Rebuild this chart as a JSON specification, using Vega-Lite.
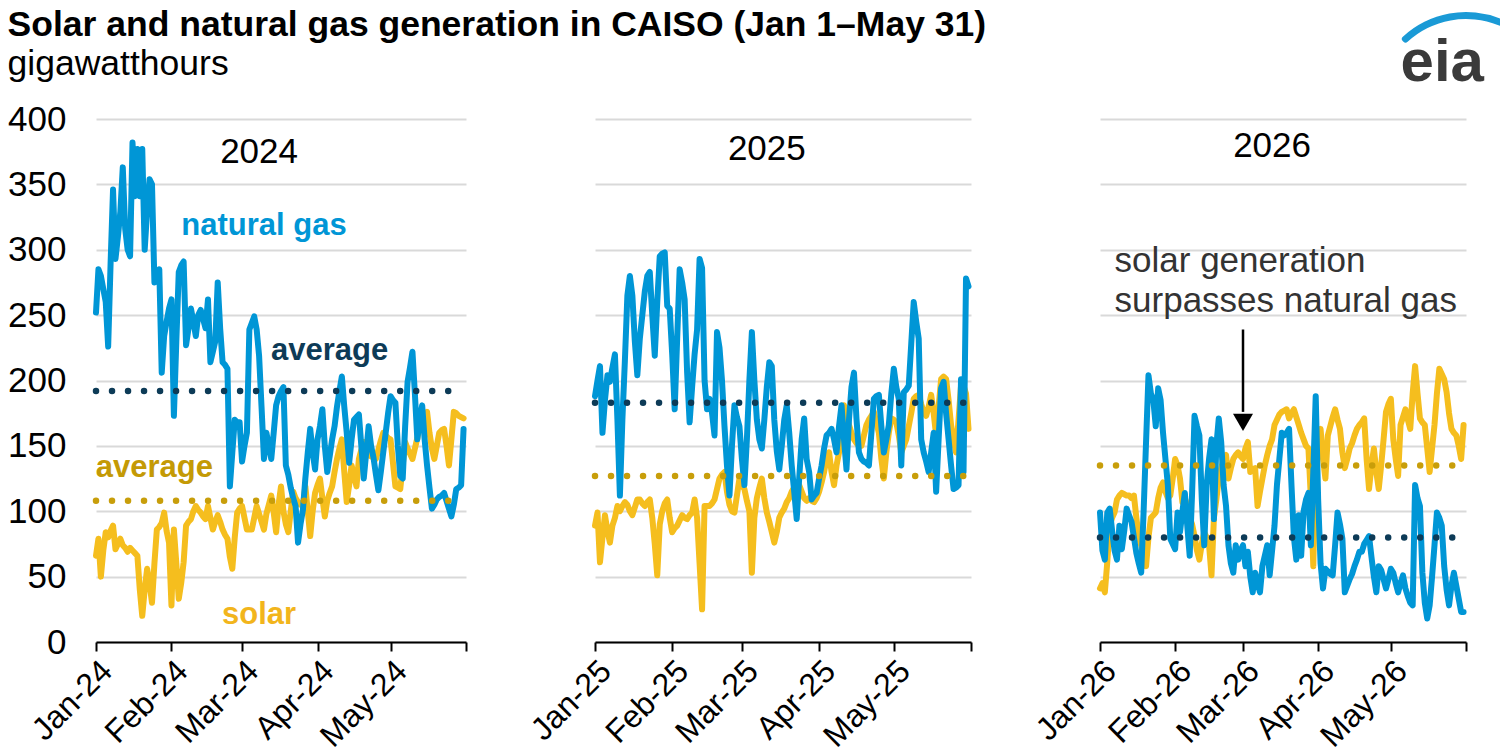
{
"$schema": "https://vega.github.io/schema/vega-lite/v6.json",
"background": "white",
"padding": {"left": 7, "top": 8, "right": 0, "bottom": 0},
"title": {"text": "Solar and natural gas generation in CAISO (Jan 1–May 31)", "subtitle": "gigawatthours", "anchor": "start", "frame": "bounds", "fontSize": 35.5, "fontWeight": "bold", "color": "#000000", "subtitleFontSize": 35.5, "subtitleColor": "#000000", "subtitlePadding": 3, "offset": -70, "font": "Liberation Sans", "subtitleFont": "Liberation Sans"},
"config": {
  "font": "Liberation Sans",
  "view": {"stroke": null},
  "axisX": {"labelAngle": -45, "labelFontSize": 32, "labelColor": "#000000", "domainColor": "#000000", "domainWidth": 2, "tickColor": "#000000", "tickWidth": 2, "tickSize": 9, "grid": false, "title": null, "labelPadding": 4, "labelOverlap": false, "labelFlush": false, "format": "%b-%y", "tickCount": {"interval": "month", "step": 1}, "labelExpr": "utcmonth(datum.value) == 5 ? '' : datum.label"},
  "axisY": {"domain": false, "ticks": false, "grid": true, "gridColor": "#D9D9D9", "gridWidth": 2, "labelFontSize": 35, "labelColor": "#000000", "labelPadding": 30, "title": null}
},
"datasets": {
"y2024": [
{"date":"2024-01-01","gas":252,"solar":66},{"date":"2024-01-02","gas":285,"solar":79},{"date":"2024-01-03","gas":280,"solar":50},{"date":"2024-01-04","gas":270,"solar":70},{"date":"2024-01-05","gas":260,"solar":84},{"date":"2024-01-06","gas":226,"solar":80},{"date":"2024-01-07","gas":290,"solar":85},{"date":"2024-01-08","gas":346,"solar":89},{"date":"2024-01-09","gas":293,"solar":71},{"date":"2024-01-10","gas":310,"solar":75},{"date":"2024-01-11","gas":329,"solar":79},{"date":"2024-01-12","gas":363,"solar":74},{"date":"2024-01-13","gas":316,"solar":72},{"date":"2024-01-14","gas":300,"solar":69},{"date":"2024-01-15","gas":295,"solar":72},{"date":"2024-01-16","gas":382,"solar":70},{"date":"2024-01-17","gas":341,"solar":68},{"date":"2024-01-18","gas":377,"solar":66},{"date":"2024-01-19","gas":341,"solar":40},{"date":"2024-01-20","gas":377,"solar":20},{"date":"2024-01-21","gas":300,"solar":40},{"date":"2024-01-22","gas":330,"solar":56},{"date":"2024-01-23","gas":354,"solar":45},{"date":"2024-01-24","gas":350,"solar":30},{"date":"2024-01-25","gas":275,"solar":60},{"date":"2024-01-26","gas":280,"solar":86},{"date":"2024-01-27","gas":285,"solar":88},{"date":"2024-01-28","gas":206,"solar":91},{"date":"2024-01-29","gas":234,"solar":99},{"date":"2024-01-30","gas":245,"solar":85},{"date":"2024-01-31","gas":255,"solar":76},
{"date":"2024-02-01","gas":262,"solar":28},{"date":"2024-02-02","gas":173,"solar":86},{"date":"2024-02-03","gas":230,"solar":60},{"date":"2024-02-04","gas":283,"solar":33},{"date":"2024-02-05","gas":288,"solar":45},{"date":"2024-02-06","gas":291,"solar":61},{"date":"2024-02-07","gas":227,"solar":89},{"date":"2024-02-08","gas":240,"solar":92},{"date":"2024-02-09","gas":255,"solar":94},{"date":"2024-02-10","gas":245,"solar":100},{"date":"2024-02-11","gas":234,"solar":104},{"date":"2024-02-12","gas":250,"solar":101},{"date":"2024-02-13","gas":254,"solar":99},{"date":"2024-02-14","gas":247,"solar":96},{"date":"2024-02-15","gas":240,"solar":94},{"date":"2024-02-16","gas":262,"solar":104},{"date":"2024-02-17","gas":214,"solar":95},{"date":"2024-02-18","gas":222,"solar":86},{"date":"2024-02-19","gas":230,"solar":92},{"date":"2024-02-20","gas":275,"solar":97},{"date":"2024-02-21","gas":240,"solar":92},{"date":"2024-02-22","gas":214,"solar":86},{"date":"2024-02-23","gas":212,"solar":82},{"date":"2024-02-24","gas":209,"solar":79},{"date":"2024-02-25","gas":119,"solar":65},{"date":"2024-02-26","gas":145,"solar":56},{"date":"2024-02-27","gas":170,"solar":80},{"date":"2024-02-28","gas":168,"solar":99},{"date":"2024-02-29","gas":168,"solar":102},
{"date":"2024-03-01","gas":138,"solar":104},{"date":"2024-03-02","gas":150,"solar":95},{"date":"2024-03-03","gas":160,"solar":86},{"date":"2024-03-04","gas":239,"solar":86},{"date":"2024-03-05","gas":244,"solar":86},{"date":"2024-03-06","gas":249,"solar":95},{"date":"2024-03-07","gas":239,"solar":104},{"date":"2024-03-08","gas":219,"solar":98},{"date":"2024-03-09","gas":180,"solar":92},{"date":"2024-03-10","gas":140,"solar":86},{"date":"2024-03-11","gas":160,"solar":98},{"date":"2024-03-12","gas":150,"solar":105},{"date":"2024-03-13","gas":140,"solar":112},{"date":"2024-03-14","gas":160,"solar":99},{"date":"2024-03-15","gas":181,"solar":84},{"date":"2024-03-16","gas":188,"solar":105},{"date":"2024-03-17","gas":192,"solar":119},{"date":"2024-03-18","gas":195,"solar":100},{"date":"2024-03-19","gas":135,"solar":90},{"date":"2024-03-20","gas":128,"solar":84},{"date":"2024-03-21","gas":118,"solar":100},{"date":"2024-03-22","gas":110,"solar":115},{"date":"2024-03-23","gas":104,"solar":110},{"date":"2024-03-24","gas":76,"solar":107},{"date":"2024-03-25","gas":90,"solar":105},{"date":"2024-03-26","gas":101,"solar":104},{"date":"2024-03-27","gas":125,"solar":119},{"date":"2024-03-28","gas":145,"solar":100},{"date":"2024-03-29","gas":163,"solar":81},{"date":"2024-03-30","gas":145,"solar":100},{"date":"2024-03-31","gas":132,"solar":114},
{"date":"2024-04-01","gas":155,"solar":120},{"date":"2024-04-02","gas":165,"solar":125},{"date":"2024-04-03","gas":178,"solar":110},{"date":"2024-04-04","gas":150,"solar":96},{"date":"2024-04-05","gas":130,"solar":108},{"date":"2024-04-06","gas":142,"solar":114},{"date":"2024-04-07","gas":155,"solar":119},{"date":"2024-04-08","gas":165,"solar":130},{"date":"2024-04-09","gas":180,"solar":140},{"date":"2024-04-10","gas":192,"solar":148},{"date":"2024-04-11","gas":203,"solar":155},{"date":"2024-04-12","gas":180,"solar":130},{"date":"2024-04-13","gas":160,"solar":107},{"date":"2024-04-14","gas":137,"solar":120},{"date":"2024-04-15","gas":155,"solar":135},{"date":"2024-04-16","gas":170,"solar":127},{"date":"2024-04-17","gas":172,"solar":119},{"date":"2024-04-18","gas":174,"solar":140},{"date":"2024-04-19","gas":150,"solar":147},{"date":"2024-04-20","gas":125,"solar":153},{"date":"2024-04-21","gas":145,"solar":148},{"date":"2024-04-22","gas":165,"solar":143},{"date":"2024-04-23","gas":150,"solar":142},{"date":"2024-04-24","gas":141,"solar":141},{"date":"2024-04-25","gas":128,"solar":140},{"date":"2024-04-26","gas":116,"solar":147},{"date":"2024-04-27","gas":130,"solar":154},{"date":"2024-04-28","gas":145,"solar":160},{"date":"2024-04-29","gas":160,"solar":158},{"date":"2024-04-30","gas":175,"solar":156},
{"date":"2024-05-01","gas":188,"solar":155},{"date":"2024-05-02","gas":185,"solar":137},{"date":"2024-05-03","gas":183,"solar":119},{"date":"2024-05-04","gas":150,"solar":118},{"date":"2024-05-05","gas":127,"solar":117},{"date":"2024-05-06","gas":125,"solar":135},{"date":"2024-05-07","gas":165,"solar":153},{"date":"2024-05-08","gas":199,"solar":148},{"date":"2024-05-09","gas":210,"solar":144},{"date":"2024-05-10","gas":222,"solar":140},{"date":"2024-05-11","gas":190,"solar":148},{"date":"2024-05-12","gas":155,"solar":156},{"date":"2024-05-13","gas":170,"solar":165},{"date":"2024-05-14","gas":181,"solar":169},{"date":"2024-05-15","gas":155,"solar":173},{"date":"2024-05-16","gas":135,"solar":176},{"date":"2024-05-17","gas":118,"solar":160},{"date":"2024-05-18","gas":102,"solar":148},{"date":"2024-05-19","gas":105,"solar":140},{"date":"2024-05-20","gas":109,"solar":150},{"date":"2024-05-21","gas":111,"solar":160},{"date":"2024-05-22","gas":112,"solar":162},{"date":"2024-05-23","gas":114,"solar":163},{"date":"2024-05-24","gas":108,"solar":150},{"date":"2024-05-25","gas":102,"solar":135},{"date":"2024-05-26","gas":96,"solar":155},{"date":"2024-05-27","gas":105,"solar":176},{"date":"2024-05-28","gas":117,"solar":175},{"date":"2024-05-29","gas":118,"solar":173},{"date":"2024-05-30","gas":120,"solar":172},{"date":"2024-05-31","gas":163,"solar":171}
],
"y2025": [
{"date":"2025-01-01","gas":188,"solar":89},{"date":"2025-01-02","gas":200,"solar":99},{"date":"2025-01-03","gas":211,"solar":61},{"date":"2025-01-04","gas":160,"solar":80},{"date":"2025-01-05","gas":185,"solar":97},{"date":"2025-01-06","gas":204,"solar":85},{"date":"2025-01-07","gas":199,"solar":76},{"date":"2025-01-08","gas":210,"solar":89},{"date":"2025-01-09","gas":220,"solar":95},{"date":"2025-01-10","gas":170,"solar":104},{"date":"2025-01-11","gas":112,"solar":100},{"date":"2025-01-12","gas":170,"solar":104},{"date":"2025-01-13","gas":215,"solar":107},{"date":"2025-01-14","gas":265,"solar":105},{"date":"2025-01-15","gas":280,"solar":100},{"date":"2025-01-16","gas":265,"solar":97},{"date":"2025-01-17","gas":230,"solar":103},{"date":"2025-01-18","gas":204,"solar":109},{"date":"2025-01-19","gas":232,"solar":109},{"date":"2025-01-20","gas":250,"solar":106},{"date":"2025-01-21","gas":268,"solar":104},{"date":"2025-01-22","gas":280,"solar":107},{"date":"2025-01-23","gas":283,"solar":109},{"date":"2025-01-24","gas":250,"solar":95},{"date":"2025-01-25","gas":219,"solar":75},{"date":"2025-01-26","gas":260,"solar":51},{"date":"2025-01-27","gas":295,"solar":90},{"date":"2025-01-28","gas":297,"solar":100},{"date":"2025-01-29","gas":298,"solar":106},{"date":"2025-01-30","gas":257,"solar":109},{"date":"2025-01-31","gas":255,"solar":95},
{"date":"2025-02-01","gas":220,"solar":84},{"date":"2025-02-02","gas":178,"solar":87},{"date":"2025-02-03","gas":232,"solar":89},{"date":"2025-02-04","gas":285,"solar":93},{"date":"2025-02-05","gas":275,"solar":97},{"date":"2025-02-06","gas":262,"solar":95},{"date":"2025-02-07","gas":206,"solar":94},{"date":"2025-02-08","gas":168,"solar":97},{"date":"2025-02-09","gas":195,"solar":99},{"date":"2025-02-10","gas":220,"solar":109},{"date":"2025-02-11","gas":239,"solar":95},{"date":"2025-02-12","gas":293,"solar":60},{"date":"2025-02-13","gas":286,"solar":25},{"date":"2025-02-14","gas":200,"solar":104},{"date":"2025-02-15","gas":178,"solar":104},{"date":"2025-02-16","gas":186,"solar":104},{"date":"2025-02-17","gas":175,"solar":106},{"date":"2025-02-18","gas":158,"solar":109},{"date":"2025-02-19","gas":237,"solar":117},{"date":"2025-02-20","gas":225,"solar":125},{"date":"2025-02-21","gas":200,"solar":128},{"date":"2025-02-22","gas":165,"solar":130},{"date":"2025-02-23","gas":135,"solar":115},{"date":"2025-02-24","gas":112,"solar":105},{"date":"2025-02-25","gas":150,"solar":100},{"date":"2025-02-26","gas":181,"solar":99},{"date":"2025-02-27","gas":172,"solar":112},{"date":"2025-02-28","gas":165,"solar":125},
{"date":"2025-03-01","gas":140,"solar":120},{"date":"2025-03-02","gas":120,"solar":117},{"date":"2025-03-03","gas":155,"solar":108},{"date":"2025-03-04","gas":200,"solar":100},{"date":"2025-03-05","gas":237,"solar":53},{"date":"2025-03-06","gas":200,"solar":95},{"date":"2025-03-07","gas":170,"solar":110},{"date":"2025-03-08","gas":155,"solar":118},{"date":"2025-03-09","gas":148,"solar":125},{"date":"2025-03-10","gas":170,"solar":110},{"date":"2025-03-11","gas":195,"solar":99},{"date":"2025-03-12","gas":214,"solar":92},{"date":"2025-03-13","gas":211,"solar":84},{"date":"2025-03-14","gas":170,"solar":76},{"date":"2025-03-15","gas":146,"solar":84},{"date":"2025-03-16","gas":132,"solar":95},{"date":"2025-03-17","gas":150,"solar":99},{"date":"2025-03-18","gas":170,"solar":102},{"date":"2025-03-19","gas":181,"solar":107},{"date":"2025-03-20","gas":160,"solar":110},{"date":"2025-03-21","gas":135,"solar":115},{"date":"2025-03-22","gas":115,"solar":118},{"date":"2025-03-23","gas":94,"solar":122},{"date":"2025-03-24","gas":125,"solar":120},{"date":"2025-03-25","gas":155,"solar":115},{"date":"2025-03-26","gas":171,"solar":110},{"date":"2025-03-27","gas":140,"solar":108},{"date":"2025-03-28","gas":130,"solar":110},{"date":"2025-03-29","gas":109,"solar":108},{"date":"2025-03-30","gas":112,"solar":107},{"date":"2025-03-31","gas":114,"solar":110},
{"date":"2025-04-01","gas":125,"solar":115},{"date":"2025-04-02","gas":135,"solar":122},{"date":"2025-04-03","gas":148,"solar":130},{"date":"2025-04-04","gas":158,"solar":140},{"date":"2025-04-05","gas":160,"solar":145},{"date":"2025-04-06","gas":163,"solar":130},{"date":"2025-04-07","gas":155,"solar":120},{"date":"2025-04-08","gas":145,"solar":135},{"date":"2025-04-09","gas":165,"solar":145},{"date":"2025-04-10","gas":181,"solar":160},{"date":"2025-04-11","gas":155,"solar":181},{"date":"2025-04-12","gas":132,"solar":172},{"date":"2025-04-13","gas":170,"solar":166},{"date":"2025-04-14","gas":195,"solar":160},{"date":"2025-04-15","gas":206,"solar":155},{"date":"2025-04-16","gas":171,"solar":152},{"date":"2025-04-17","gas":145,"solar":150},{"date":"2025-04-18","gas":140,"solar":150},{"date":"2025-04-19","gas":138,"solar":158},{"date":"2025-04-20","gas":137,"solar":166},{"date":"2025-04-21","gas":135,"solar":170},{"date":"2025-04-22","gas":160,"solar":173},{"date":"2025-04-23","gas":186,"solar":176},{"date":"2025-04-24","gas":188,"solar":168},{"date":"2025-04-25","gas":189,"solar":160},{"date":"2025-04-26","gas":165,"solar":140},{"date":"2025-04-27","gas":145,"solar":125},{"date":"2025-04-28","gas":155,"solar":145},{"date":"2025-04-29","gas":166,"solar":160},{"date":"2025-04-30","gas":190,"solar":171},
{"date":"2025-05-01","gas":209,"solar":170},{"date":"2025-05-02","gas":195,"solar":168},{"date":"2025-05-03","gas":186,"solar":158},{"date":"2025-05-04","gas":135,"solar":145},{"date":"2025-05-05","gas":191,"solar":150},{"date":"2025-05-06","gas":193,"solar":155},{"date":"2025-05-07","gas":196,"solar":165},{"date":"2025-05-08","gas":228,"solar":175},{"date":"2025-05-09","gas":260,"solar":186},{"date":"2025-05-10","gas":245,"solar":188},{"date":"2025-05-11","gas":232,"solar":189},{"date":"2025-05-12","gas":155,"solar":182},{"date":"2025-05-13","gas":145,"solar":176},{"date":"2025-05-14","gas":138,"solar":173},{"date":"2025-05-15","gas":130,"solar":180},{"date":"2025-05-16","gas":145,"solar":189},{"date":"2025-05-17","gas":160,"solar":175},{"date":"2025-05-18","gas":115,"solar":158},{"date":"2025-05-19","gas":155,"solar":180},{"date":"2025-05-20","gas":194,"solar":201},{"date":"2025-05-21","gas":199,"solar":203},{"date":"2025-05-22","gas":175,"solar":201},{"date":"2025-05-23","gas":155,"solar":185},{"date":"2025-05-24","gas":135,"solar":166},{"date":"2025-05-25","gas":117,"solar":155},{"date":"2025-05-26","gas":118,"solar":145},{"date":"2025-05-27","gas":120,"solar":170},{"date":"2025-05-28","gas":201,"solar":196},{"date":"2025-05-29","gas":130,"solar":196},{"date":"2025-05-30","gas":278,"solar":190},{"date":"2025-05-31","gas":272,"solar":163}
],
"y2026": [
{"date":"2026-01-01","gas":99,"solar":41},{"date":"2026-01-02","gas":70,"solar":45},{"date":"2026-01-03","gas":63,"solar":38},{"date":"2026-01-04","gas":99,"solar":61},{"date":"2026-01-05","gas":102,"solar":89},{"date":"2026-01-06","gas":85,"solar":95},{"date":"2026-01-07","gas":70,"solar":99},{"date":"2026-01-08","gas":63,"solar":109},{"date":"2026-01-09","gas":89,"solar":112},{"date":"2026-01-10","gas":71,"solar":114},{"date":"2026-01-11","gas":85,"solar":113},{"date":"2026-01-12","gas":102,"solar":112},{"date":"2026-01-13","gas":97,"solar":112},{"date":"2026-01-14","gas":92,"solar":110},{"date":"2026-01-15","gas":80,"solar":112},{"date":"2026-01-16","gas":68,"solar":95},{"date":"2026-01-17","gas":60,"solar":80},{"date":"2026-01-18","gas":53,"solar":74},{"date":"2026-01-19","gas":100,"solar":65},{"date":"2026-01-20","gas":153,"solar":58},{"date":"2026-01-21","gas":204,"solar":80},{"date":"2026-01-22","gas":190,"solar":95},{"date":"2026-01-23","gas":185,"solar":97},{"date":"2026-01-24","gas":165,"solar":99},{"date":"2026-01-25","gas":194,"solar":110},{"date":"2026-01-26","gas":185,"solar":118},{"date":"2026-01-27","gas":160,"solar":122},{"date":"2026-01-28","gas":140,"solar":115},{"date":"2026-01-29","gas":120,"solar":110},{"date":"2026-01-30","gas":79,"solar":112},{"date":"2026-01-31","gas":75,"solar":125},
{"date":"2026-02-01","gas":71,"solar":140},{"date":"2026-02-02","gas":99,"solar":135},{"date":"2026-02-03","gas":84,"solar":125},{"date":"2026-02-04","gas":100,"solar":107},{"date":"2026-02-05","gas":114,"solar":110},{"date":"2026-02-06","gas":89,"solar":105},{"date":"2026-02-07","gas":66,"solar":95},{"date":"2026-02-08","gas":114,"solar":90},{"date":"2026-02-09","gas":173,"solar":81},{"date":"2026-02-10","gas":165,"solar":70},{"date":"2026-02-11","gas":158,"solar":63},{"date":"2026-02-12","gas":109,"solar":75},{"date":"2026-02-13","gas":74,"solar":84},{"date":"2026-02-14","gas":120,"solar":80},{"date":"2026-02-15","gas":140,"solar":74},{"date":"2026-02-16","gas":155,"solar":51},{"date":"2026-02-17","gas":94,"solar":95},{"date":"2026-02-18","gas":150,"solar":109},{"date":"2026-02-19","gas":171,"solar":125},{"date":"2026-02-20","gas":153,"solar":133},{"date":"2026-02-21","gas":120,"solar":140},{"date":"2026-02-22","gas":104,"solar":143},{"date":"2026-02-23","gas":74,"solar":125},{"date":"2026-02-24","gas":60,"solar":133},{"date":"2026-02-25","gas":53,"solar":140},{"date":"2026-02-26","gas":74,"solar":143},{"date":"2026-02-27","gas":63,"solar":145},{"date":"2026-02-28","gas":70,"solar":142},
{"date":"2026-03-01","gas":74,"solar":140},{"date":"2026-03-02","gas":58,"solar":148},{"date":"2026-03-03","gas":69,"solar":153},{"date":"2026-03-04","gas":50,"solar":130},{"date":"2026-03-05","gas":38,"solar":132},{"date":"2026-03-06","gas":53,"solar":133},{"date":"2026-03-07","gas":45,"solar":104},{"date":"2026-03-08","gas":38,"solar":115},{"date":"2026-03-09","gas":58,"solar":125},{"date":"2026-03-10","gas":66,"solar":135},{"date":"2026-03-11","gas":74,"solar":143},{"date":"2026-03-12","gas":51,"solar":150},{"date":"2026-03-13","gas":70,"solar":155},{"date":"2026-03-14","gas":89,"solar":166},{"date":"2026-03-15","gas":120,"solar":170},{"date":"2026-03-16","gas":140,"solar":174},{"date":"2026-03-17","gas":160,"solar":176},{"date":"2026-03-18","gas":158,"solar":177},{"date":"2026-03-19","gas":160,"solar":178},{"date":"2026-03-20","gas":163,"solar":171},{"date":"2026-03-21","gas":120,"solar":175},{"date":"2026-03-22","gas":80,"solar":178},{"date":"2026-03-23","gas":63,"solar":172},{"date":"2026-03-24","gas":97,"solar":166},{"date":"2026-03-25","gas":66,"solar":160},{"date":"2026-03-26","gas":100,"solar":155},{"date":"2026-03-27","gas":109,"solar":150},{"date":"2026-03-28","gas":114,"solar":148},{"date":"2026-03-29","gas":74,"solar":110},{"date":"2026-03-30","gas":130,"solar":58},{"date":"2026-03-31","gas":188,"solar":140},
{"date":"2026-04-01","gas":109,"solar":150},{"date":"2026-04-02","gas":60,"solar":163},{"date":"2026-04-03","gas":41,"solar":140},{"date":"2026-04-04","gas":56,"solar":125},{"date":"2026-04-05","gas":54,"solar":158},{"date":"2026-04-06","gas":52,"solar":165},{"date":"2026-04-07","gas":51,"solar":172},{"date":"2026-04-08","gas":74,"solar":178},{"date":"2026-04-09","gas":99,"solar":170},{"date":"2026-04-10","gas":90,"solar":163},{"date":"2026-04-11","gas":79,"solar":145},{"date":"2026-04-12","gas":38,"solar":133},{"date":"2026-04-13","gas":43,"solar":140},{"date":"2026-04-14","gas":48,"solar":148},{"date":"2026-04-15","gas":52,"solar":152},{"date":"2026-04-16","gas":58,"solar":158},{"date":"2026-04-17","gas":63,"solar":163},{"date":"2026-04-18","gas":69,"solar":166},{"date":"2026-04-19","gas":69,"solar":168},{"date":"2026-04-20","gas":75,"solar":171},{"date":"2026-04-21","gas":78,"solar":140},{"date":"2026-04-22","gas":81,"solar":117},{"date":"2026-04-23","gas":65,"solar":135},{"date":"2026-04-24","gas":50,"solar":148},{"date":"2026-04-25","gas":38,"solar":130},{"date":"2026-04-26","gas":58,"solar":117},{"date":"2026-04-27","gas":55,"solar":135},{"date":"2026-04-28","gas":48,"solar":155},{"date":"2026-04-29","gas":41,"solar":176},{"date":"2026-04-30","gas":48,"solar":182},
{"date":"2026-05-01","gas":56,"solar":186},{"date":"2026-05-02","gas":53,"solar":155},{"date":"2026-05-03","gas":45,"solar":140},{"date":"2026-05-04","gas":38,"solar":127},{"date":"2026-05-05","gas":45,"solar":166},{"date":"2026-05-06","gas":51,"solar":172},{"date":"2026-05-07","gas":41,"solar":178},{"date":"2026-05-08","gas":35,"solar":170},{"date":"2026-05-09","gas":30,"solar":163},{"date":"2026-05-10","gas":28,"solar":190},{"date":"2026-05-11","gas":120,"solar":211},{"date":"2026-05-12","gas":110,"solar":190},{"date":"2026-05-13","gas":104,"solar":171},{"date":"2026-05-14","gas":53,"solar":168},{"date":"2026-05-15","gas":30,"solar":166},{"date":"2026-05-16","gas":18,"solar":148},{"date":"2026-05-17","gas":28,"solar":130},{"date":"2026-05-18","gas":50,"solar":148},{"date":"2026-05-19","gas":74,"solar":166},{"date":"2026-05-20","gas":99,"solar":190},{"date":"2026-05-21","gas":95,"solar":209},{"date":"2026-05-22","gas":89,"solar":205},{"date":"2026-05-23","gas":58,"solar":201},{"date":"2026-05-24","gas":40,"solar":191},{"date":"2026-05-25","gas":28,"solar":175},{"date":"2026-05-26","gas":43,"solar":163},{"date":"2026-05-27","gas":53,"solar":160},{"date":"2026-05-28","gas":43,"solar":158},{"date":"2026-05-29","gas":33,"solar":150},{"date":"2026-05-30","gas":23,"solar":140},{"date":"2026-05-31","gas":23,"solar":166}
]
},
"hconcat": [
{
 "width": 370, "height": 523,
 "layer": [
  {"data": {"name": "y2024"}, "mark": {"type": "line", "color": "#F5BE1E", "strokeWidth": 6, "strokeJoin": "round", "strokeCap": "round"},
   "encoding": {"x": {"field": "date", "type": "temporal", "scale": {"type": "utc", "domain": [{"year": 2024, "month": 1, "date": 1, "utc": true}, {"year": 2024, "month": 6, "date": 1, "utc": true}]}},
     "y": {"field": "solar", "type": "quantitative", "scale": {"domain": [0, 400]}, "axis": {"values": [0, 50, 100, 150, 200, 250, 300, 350, 400]}}}},
  {"data": {"name": "y2024"}, "mark": {"type": "line", "color": "#0096D6", "strokeWidth": 6, "strokeJoin": "round", "strokeCap": "round"},
   "encoding": {"x": {"field": "date", "type": "temporal"}, "y": {"field": "gas", "type": "quantitative"}}},
  {"data": {"values": [{"fuel": "natural gas", "average": 192}, {"fuel": "solar", "average": 108}]},
   "mark": {"type": "rule", "strokeWidth": 6.5, "strokeDash": [0.01, 16], "strokeCap": "round"},
   "encoding": {"x": {"datum": {"year": 2024, "month": 1, "date": 1, "utc": true}, "type": "temporal"}, "x2": {"datum": {"year": 2024, "month": 5, "date": 26, "utc": true}},
     "y": {"field": "average", "type": "quantitative"},
     "color": {"field": "fuel", "type": "nominal", "scale": {"domain": ["natural gas", "solar"], "range": ["#0D3B57", "#C89E0A"]}, "legend": null}}},
  {"data": {"values": [{}]}, "mark": {"type": "text", "text": "2024", "fontSize": 35, "color": "#000000", "align": "center", "baseline": "alphabetic"},
   "encoding": {"x": {"datum": {"year": 2024, "month": 3, "date": 8, "utc": true}, "type": "temporal"}, "y": {"datum": 366, "type": "quantitative"}}},
  {"data": {"values": [{}]}, "mark": {"type": "text", "text": "natural gas", "fontSize": 31, "fontWeight": "bold", "color": "#0096D6", "align": "center", "baseline": "alphabetic"},
   "encoding": {"x": {"datum": {"year": 2024, "month": 3, "date": 10, "utc": true}, "type": "temporal"}, "y": {"datum": 311, "type": "quantitative"}}},
  {"data": {"values": [{}]}, "mark": {"type": "text", "text": "average", "fontSize": 31, "fontWeight": "bold", "color": "#0D3B57", "align": "center", "baseline": "alphabetic"},
   "encoding": {"x": {"datum": {"year": 2024, "month": 4, "date": 6, "utc": true}, "type": "temporal"}, "y": {"datum": 216, "type": "quantitative"}}},
  {"data": {"values": [{}]}, "mark": {"type": "text", "text": "average", "fontSize": 31, "fontWeight": "bold", "color": "#C49A05", "align": "center", "baseline": "alphabetic"},
   "encoding": {"x": {"datum": {"year": 2024, "month": 1, "date": 25, "utc": true}, "type": "temporal"}, "y": {"datum": 126, "type": "quantitative"}}},
  {"data": {"values": [{}]}, "mark": {"type": "text", "text": "solar", "fontSize": 31, "fontWeight": "bold", "color": "#F2B51C", "align": "center", "baseline": "alphabetic"},
   "encoding": {"x": {"datum": {"year": 2024, "month": 3, "date": 8, "utc": true}, "type": "temporal"}, "y": {"datum": 14, "type": "quantitative"}}}
 ]
},
{
 "width": 376, "height": 523,
 "layer": [
  {"data": {"name": "y2025"}, "mark": {"type": "line", "color": "#F5BE1E", "strokeWidth": 6, "strokeJoin": "round", "strokeCap": "round"},
   "encoding": {"x": {"field": "date", "type": "temporal", "scale": {"type": "utc", "domain": [{"year": 2025, "month": 1, "date": 1, "utc": true}, {"year": 2025, "month": 6, "date": 1, "utc": true}]}},
     "y": {"field": "solar", "type": "quantitative", "scale": {"domain": [0, 400]}, "axis": {"labels": false, "values": [0, 50, 100, 150, 200, 250, 300, 350, 400]}}}},
  {"data": {"name": "y2025"}, "mark": {"type": "line", "color": "#0096D6", "strokeWidth": 6, "strokeJoin": "round", "strokeCap": "round"},
   "encoding": {"x": {"field": "date", "type": "temporal"}, "y": {"field": "gas", "type": "quantitative"}}},
  {"data": {"values": [{"fuel": "natural gas", "average": 183}, {"fuel": "solar", "average": 127}]},
   "mark": {"type": "rule", "strokeWidth": 6.5, "strokeDash": [0.01, 16], "strokeCap": "round"},
   "encoding": {"x": {"datum": {"year": 2025, "month": 1, "date": 1, "utc": true}, "type": "temporal"}, "x2": {"datum": {"year": 2025, "month": 5, "date": 31, "utc": true}},
     "y": {"field": "average", "type": "quantitative"},
     "color": {"field": "fuel", "type": "nominal", "scale": {"domain": ["natural gas", "solar"], "range": ["#0D3B57", "#C89E0A"]}, "legend": null}}},
  {"data": {"values": [{}]}, "mark": {"type": "text", "text": "2025", "fontSize": 35, "color": "#000000", "align": "center", "baseline": "alphabetic"},
   "encoding": {"x": {"datum": {"year": 2025, "month": 3, "date": 11, "utc": true}, "type": "temporal"}, "y": {"datum": 369, "type": "quantitative"}}}
 ]
},
{
 "width": 366, "height": 523,
 "layer": [
  {"data": {"name": "y2026"}, "mark": {"type": "line", "color": "#F5BE1E", "strokeWidth": 6, "strokeJoin": "round", "strokeCap": "round"},
   "encoding": {"x": {"field": "date", "type": "temporal", "scale": {"type": "utc", "domain": [{"year": 2026, "month": 1, "date": 1, "utc": true}, {"year": 2026, "month": 6, "date": 1, "utc": true}]}},
     "y": {"field": "solar", "type": "quantitative", "scale": {"domain": [0, 400]}, "axis": {"labels": false, "values": [0, 50, 100, 150, 200, 250, 300, 350, 400]}}}},
  {"data": {"name": "y2026"}, "mark": {"type": "line", "color": "#0096D6", "strokeWidth": 6, "strokeJoin": "round", "strokeCap": "round"},
   "encoding": {"x": {"field": "date", "type": "temporal"}, "y": {"field": "gas", "type": "quantitative"}}},
  {"data": {"values": [{"fuel": "natural gas", "average": 80}, {"fuel": "solar", "average": 135}]},
   "mark": {"type": "rule", "strokeWidth": 6.5, "strokeDash": [0.01, 16], "strokeCap": "round"},
   "encoding": {"x": {"datum": {"year": 2026, "month": 1, "date": 1, "utc": true}, "type": "temporal"}, "x2": {"datum": {"year": 2026, "month": 6, "date": 1, "utc": true}},
     "y": {"field": "average", "type": "quantitative"},
     "color": {"field": "fuel", "type": "nominal", "scale": {"domain": ["natural gas", "solar"], "range": ["#0D3B57", "#C89E0A"]}, "legend": null}}},
  {"data": {"values": [{}]}, "mark": {"type": "text", "text": "2026", "fontSize": 35, "color": "#000000", "align": "center", "baseline": "alphabetic"},
   "encoding": {"x": {"datum": {"year": 2026, "month": 3, "date": 13, "utc": true}, "type": "temporal"}, "y": {"datum": 371, "type": "quantitative"}}},
  {"data": {"values": [{}]}, "mark": {"type": "text", "text": ["solar generation", "surpasses natural gas"], "lineHeight": 40, "fontSize": 35, "color": "#333333", "align": "left", "baseline": "alphabetic"},
   "encoding": {"x": {"datum": {"year": 2026, "month": 1, "date": 7, "utc": true}, "type": "temporal"}, "y": {"datum": 283, "type": "quantitative"}}},
  {"data": {"values": [{}]}, "mark": {"type": "rule", "color": "#000000", "strokeWidth": 2.5},
   "encoding": {"x": {"datum": {"year": 2026, "month": 3, "date": 1, "utc": true}, "type": "temporal"}, "y": {"datum": 239, "type": "quantitative"}, "y2": {"datum": 176}}},
  {"data": {"values": [{}]}, "mark": {"type": "point", "shape": "triangle-down", "filled": true, "size": 400, "color": "#000000", "opacity": 1},
   "encoding": {"x": {"datum": {"year": 2026, "month": 3, "date": 1, "utc": true}, "type": "temporal"}, "y": {"datum": 168, "type": "quantitative"}}},
  {"data": {"values": [{}]}, "mark": {"type": "text", "text": "eia", "fontSize": 60, "fontWeight": "bold", "color": "#3A3A3A", "align": "left", "baseline": "alphabetic"},
   "encoding": {"x": {"datum": {"year": 2026, "month": 5, "date": 5, "utc": true}, "type": "temporal"}, "y": {"datum": 429, "type": "quantitative"}}},
  {"data": {"values": [{}]}, "mark": {"type": "arc", "color": "#1A9AD6", "radius": 93, "radius2": 86, "theta": -0.78, "theta2": 0.42, "cornerRadius": 3},
   "encoding": {"x": {"datum": {"year": 2026, "month": 6, "date": 1, "utc": true}, "type": "temporal"}, "y": {"datum": 410.7, "type": "quantitative"}}}
 ]
}
],
"spacing": 129,
"bounds": "flush"
}
